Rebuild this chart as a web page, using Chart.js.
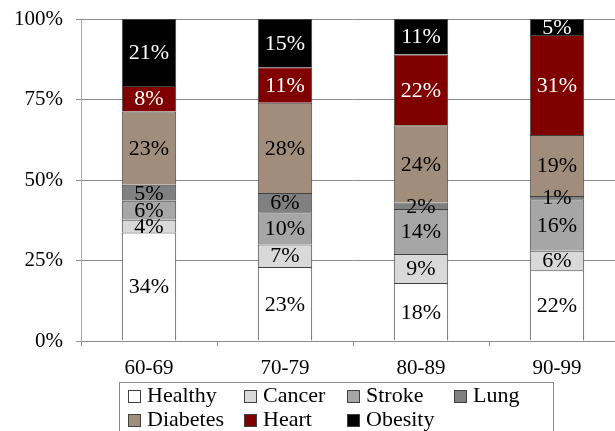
<!DOCTYPE html>
<html>
<head>
<meta charset="utf-8">
<script src="https://cdn.jsdelivr.net/npm/chart.js@4/dist/chart.umd.min.js"></script>
<style>
html,body{margin:0;padding:0;overflow:hidden;background:#fff;}
canvas{display:block;}
</style>
</head>
<body>
<canvas id="c" width="640" height="431"></canvas>
<script>
const categories = ["60-69", "70-79", "80-89", "90-99"];
const seriesNames = ["Healthy", "Cancer", "Stroke", "Lung", "Diabetes", "Heart", "Obesity"];
const healthy  = [34, 23, 18, 22];
const cancer   = [4, 7, 9, 6];
const stroke   = [6, 10, 14, 16];
const lung     = [5, 6, 2, 1];
const diabetes = [23, 28, 24, 19];
const heart    = [8, 11, 22, 31];
const obesity  = [21, 15, 11, 5];
const yTicks = [0, 25, 50, 75, 100];

const seriesValues = [healthy, cancer, stroke, lung, diabetes, heart, obesity];
const colors = ["#ffffff", "#d9d9d9", "#a6a6a6", "#808080", "#a18d7c", "#800000", "#000000"];
const labelColors = ["#000", "#000", "#000", "#000", "#000", "#fff", "#fff"];
const FONT = "'Liberation Serif', 'Times New Roman', serif";

const totals = categories.map((_, i) => seriesValues.reduce((s, arr) => s + arr[i], 0));

const datasets = seriesNames.map((name, k) => ({
  label: name,
  raw: seriesValues[k],
  data: seriesValues[k].map((v, i) => v / totals[i] * 100),
  backgroundColor: colors[k],
  borderColor: "#404040",
  borderWidth: 1,
  labelColor: labelColors[k],
  categoryPercentage: 1.0,
  barPercentage: 0.4
}));

const dataLabels = {
  id: "dataLabels",
  afterDatasetsDraw(chart) {
    const ctx = chart.ctx;
    ctx.save();
    ctx.font = "22px " + FONT;
    ctx.textAlign = "center";
    ctx.textBaseline = "middle";
    chart.data.datasets.forEach((ds, di) => {
      const meta = chart.getDatasetMeta(di);
      meta.data.forEach((bar, i) => {
        const cy = (bar.y + bar.base) / 2;
        ctx.fillStyle = ds.labelColor;
        ctx.fillText(ds.raw[i] + "%", bar.x, cy + 1);
      });
    });
    ctx.restore();
  }
};

const customLegend = {
  id: "customLegend",
  afterDraw(chart) {
    const ctx = chart.ctx;
    ctx.save();
    ctx.strokeStyle = "#8c8c8c";
    ctx.lineWidth = 1;
    ctx.strokeRect(119.5, 382.5, 434, 60);
    const cols = [128, 244, 347, 454];
    const rows = [390, 414];
    ctx.font = "22px " + FONT;
    ctx.textAlign = "left";
    ctx.textBaseline = "alphabetic";
    chart.data.datasets.forEach((ds, k) => {
      const x = cols[k % 4];
      const y = rows[Math.floor(k / 4)];
      ctx.fillStyle = ds.backgroundColor;
      ctx.fillRect(x, y, 13, 13);
      ctx.strokeStyle = "#404040";
      ctx.strokeRect(x + 0.5, y + 0.5, 12, 12);
      ctx.fillStyle = "#000";
      ctx.fillText(ds.label, x + 19, y + 12);
    });
    ctx.restore();
  }
};

new Chart(document.getElementById("c"), {
  type: "bar",
  data: { labels: categories, datasets },
  options: {
    responsive: false,
    animation: false,
    layout: { padding: { left: 0, right: 15, top: 19, bottom: 0 } },
    plugins: { legend: { display: false }, tooltip: { enabled: false } },
    scales: {
      x: {
        stacked: true,
        offset: true,
        grid: { display: true, drawOnChartArea: false, drawTicks: true, tickLength: 5, offset: true, color: "#8c8c8c" },
        border: { display: true, color: "#8c8c8c" },
        ticks: { color: "#000", font: { family: FONT, size: 21 }, padding: 10 },
        afterFit(scale) { scale.height = 90; scale.paddingLeft = 0; scale.paddingRight = 0; }
      },
      y: {
        stacked: true,
        min: 0,
        max: 100,
        afterBuildTicks(scale) { scale.ticks = yTicks.map(v => ({ value: v })); },
        grid: { color: "#8c8c8c", tickLength: 5 },
        border: { display: true, color: "#a6a6a6" },
        ticks: { color: "#000", font: { family: FONT, size: 21 }, padding: 13, callback: v => v + "%" },
        afterFit(scale) { scale.width = 81; scale.paddingTop = 0; scale.paddingBottom = 0; }
      }
    }
  },
  plugins: [dataLabels, customLegend]
});
</script>
</body>
</html>
